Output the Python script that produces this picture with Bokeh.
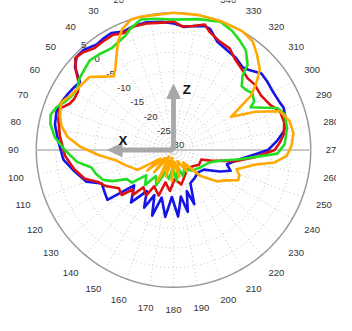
import numpy as np
from bokeh.plotting import figure
from bokeh.models import Range1d
from bokeh.core.properties import value
from bokeh.embed import file_html
from bokeh.resources import INLINE

# ---------------- data (angle in degrees CCW from top, gain in dB) ----------------
theta_blue = [0, 5, 12, 18, 23, 28, 32, 36, 42, 46, 50, 54, 58, 62, 67, 72, 78, 86, 95, 102,
              110, 115, 120, 127, 132, 141, 147, 153, 157, 162, 166, 173, 178, 184, 189, 193, 198, 201, 207, 216,
              228, 237, 245, 250, 255, 262, 267, 270, 275, 280, 286, 291, 294, 300, 306, 311, 317, 320,
              326, 331, 338, 343, 346, 351, 355]
db_blue = [2.3, 2.8, 3.3, 3.2, 2.8, 3.8, 3.6, 3.3, 4.3, 4.3, 2.8, -0.5, 0.0, 0.5, 1.1, 1.4, 0.9, -0.6, -1.8, -4.1,
           -6.4, -9.8, -9.5, -8.9, -16.5, -12.8, -17.5, -13.5, -17.5, -12.4, -17.5, -12.8, -18.0, -13.0, -18.0, -13.8, -19.0, -15.2, -20.5, -21.0,
           -21.5, -20.8, -17.0, -14.5, -15.9, -13.0, -9.1, -5.9, -3.5, -1.3, -0.3, 0.1, -0.3, -0.6, -0.4, -0.3, -2.0, -2.5,
           -1.6, -1.2, -0.2, 2.2, 2.6, 2.0, 1.5]

theta_red = [0, 5, 12, 18, 23, 28, 33, 38, 43, 47, 51, 55, 59, 63, 66, 70, 75, 83, 93, 101,
             108, 113, 118, 125, 131, 134, 138, 141, 149, 152, 162, 166, 175, 182, 193, 205, 215, 228, 240, 251,
             254, 260, 265, 270, 274, 278, 284, 290, 295, 302, 309, 314, 319, 326, 331, 337, 343, 346, 351, 356]
db_red = [2.8, 2.6, 3.0, 3.1, 2.4, 3.2, 3.0, 2.9, 4.0, 4.3, 2.0, -0.6, -1.5, -1.5, -1.0, 0.9, 0.4, -0.8, -2.3, -4.2,
          -6.2, -9.1, -10.4, -13.0, -12.5, -15.5, -14.7, -17.8, -16.5, -19.5, -17.8, -21.5, -19.5, -22.5, -21.0, -23.0, -24.0, -23.7, -22.5, -22.5,
          -20.2, -13.7, -9.1, -4.2, -2.8, -1.6, -0.9, -1.1, -2.8, -3.7, -3.4, -3.7, -3.1, -2.0, -0.4, 0.1, 1.5, 3.0, 2.0, 1.6]

theta_green = [0, 8, 14, 19, 23, 31, 38, 43, 48, 53, 58, 62, 66, 70, 74, 78, 84, 90, 97, 102,
               107, 113, 117, 122, 128, 133, 141, 146, 154, 160, 171, 178, 186, 193, 200, 210, 222, 235, 246, 252,
               257, 262, 266, 268, 273, 281, 288, 292, 295, 299, 301, 306, 309, 313, 317, 319, 324, 329, 334, 340, 349]
db_green = [3.3, 3.8, 4.3, 3.0, 1.6, 0.4, 0.9, 1.3, 0.6, 0.1, -1.0, -0.6, 0.3, 1.8, 2.6, 2.1, 0.4, -2.3, -5.2, -8.6,
            -9.3, -10.5, -12.5, -16.0, -16.5, -20.5, -18.5, -22.0, -20.0, -24.0, -22.5, -25.5, -22.0, -25.5, -23.0, -24.5, -23.0, -22.0, -21.0, -20.0,
            -17.8, -13.0, -7.6, -3.5, -1.6, -0.5, -0.2, -1.4, -4.5, -7.5, -6.0, -5.2, -5.9, -6.2, -4.2, -1.2, 1.4, 2.7, 3.9, 4.8, 4.0]

theta_orange = [0, 14, 18, 23, 27, 31, 35, 39, 44, 49, 54, 62, 67, 73, 78, 83, 88, 94, 100, 107,
                113, 119, 123, 128, 133, 139, 146, 153, 159, 164, 170, 177, 183, 192, 200, 212, 218, 226, 234, 240,
                245, 249, 253, 260, 263, 267, 272, 278, 284, 290, 295, 300, 305, 309, 313, 319, 324, 330, 340, 350]
db_orange = [5.0, 5.0, 5.0, 3.5, 1.1, -1.8, -4.2, -5.8, -4.0, -1.6, -1.3, -0.3, 1.1, 0.3, -0.8, -2.8, -6.2, -11.0, -15.0, -17.0,
             -18.5, -19.5, -26.0, -21.5, -27.0, -22.5, -28.0, -21.0, -27.0, -23.0, -28.0, -22.0, -27.0, -23.0, -27.0, -23.5, -26.0, -20.5, -16.4, -14.5,
             -11.8, -12.0, -13.2, -8.7, -4.0, -1.1, 0.1, 0.9, 0.5, -1.1, -6.9, -13.0, -5.9, -2.8, 0.1, 2.4, 4.3, 5.0, 5.0, 5.0]

series_colors = ["#1414e6", "#dd1010", "#22dd22", "#ffa800"]

ring_db = [-25, -20, -15, -10, -5, 0]
ring_label_db = [-30, -25, -20, -15, -10, -5, 0, 5]
ring_labels = ["-30", "-25", "-20", "-15", "-10", "-5", "0", "5"]
angle_ticks = list(range(0, 360, 10))
angle_labels = [str(a) for a in angle_ticks]

# ---------------- geometry ----------------
W, H = 336, 315
S = 0.953               # whole drawing scaled to fit the 336x315 frame
DB_MIN, DB_MAX = -30.0, 5.0
R_MAX = 144.0 * S
CX, CY = 173, 149.5     # center position inside the frame (px from left / top)
LABEL_R = 168.0 * S
RING_LABEL_ANGLE = 43.0
FS = "%.1fpx" % (10 * S)


def rad(db):
    db = np.clip(np.asarray(db, dtype=float), DB_MIN, DB_MAX)
    return (db - DB_MIN) / (DB_MAX - DB_MIN) * R_MAX


def polar_xy(theta_deg, r):
    t = np.radians(np.asarray(theta_deg, dtype=float))
    r = np.asarray(r, dtype=float)
    return -r * np.sin(t), r * np.cos(t)


p = figure(width=W, height=H, x_range=Range1d(-CX, W - CX), y_range=Range1d(CY - H, CY),
           output_backend="svg", toolbar_location=None, x_axis_type=None, y_axis_type=None,
           min_border=0, background_fill_color="white", border_fill_color="white")
p.outline_line_color = None
p.xgrid.grid_line_color = None
p.ygrid.grid_line_color = None

# spokes
xs_sp, ys_sp = [], []
for a in angle_ticks:
    x1, y1 = polar_xy(a, R_MAX)
    xs_sp.append([0.0, float(x1)])
    ys_sp.append([0.0, float(y1)])
p.multi_line(xs_sp, ys_sp, line_color="#c4c4c4", line_width=1, line_dash="1 3")

# rings
full = np.linspace(0, 360, 361)
xs_r, ys_r = [], []
for d in ring_db:
    x, y = polar_xy(full, np.full_like(full, rad(d)))
    xs_r.append(list(x)); ys_r.append(list(y))
p.multi_line(xs_r, ys_r, line_color="#c4c4c4", line_width=1, line_dash="1 3")

# outer circle
xo, yo = polar_xy(full, np.full_like(full, R_MAX))
p.line(xo, yo, line_color="#9a9a9a", line_width=1.5)

# horizontal axis line 90-270
xh, yh = polar_xy([90, 270], [R_MAX, R_MAX])
p.line(xh, yh, line_color="#c8c8c8", line_width=2)

# angle labels
xa, ya = polar_xy(angle_ticks, np.full(len(angle_ticks), LABEL_R))
p.text(xa, ya, text=angle_labels, text_align="center", text_baseline="middle",
       text_font=value("Liberation Sans"), text_font_size=FS, text_color="#333333")

# ring labels
xl, yl = polar_xy(np.full(len(ring_label_db), RING_LABEL_ANGLE), rad(ring_label_db))
p.text(xl + 4 * S, yl + 5 * S, text=ring_labels, text_align="center", text_baseline="middle",
       text_font=value("Liberation Sans"), text_font_size=FS, text_color="#333333")

# axis arrows (Z up, X left)
ARROW_LEN = 69.0 * S
HEAD_L, HEAD_W = 15.0 * S, 7.0 * S
AC = "#a8a8a8"
p.segment([0, 0], [0, 0], [0, -(ARROW_LEN - HEAD_L)], [ARROW_LEN - HEAD_L, 0], line_color=AC, line_width=5 * S)
p.patches([[-HEAD_W, HEAD_W, 0], [-(ARROW_LEN - HEAD_L), -(ARROW_LEN - HEAD_L), -ARROW_LEN]],
          [[ARROW_LEN - HEAD_L, ARROW_LEN - HEAD_L, ARROW_LEN], [HEAD_W, -HEAD_W, 0]],
          fill_color=AC, line_color=AC)
p.text([14 * S, -53 * S], [64 * S, 10 * S], text=["Z", "X"], text_align="center", text_baseline="middle",
       text_font=value("Liberation Sans"), text_font_size="%.1fpx" % (14 * S), text_font_style="bold",
       text_color="#111111")

# pattern curves
for th, db, col in [(theta_blue, db_blue, series_colors[0]),
                    (theta_red, db_red, series_colors[1]),
                    (theta_green, db_green, series_colors[2]),
                    (theta_orange, db_orange, series_colors[3])]:
    t = list(th) + [th[0]]
    d = list(db) + [db[0]]
    x, y = polar_xy(t, rad(d))
    p.line(x, y, line_color=col, line_width=2.6, line_join="round")

open("out.html", "w").write(file_html(p, INLINE))
